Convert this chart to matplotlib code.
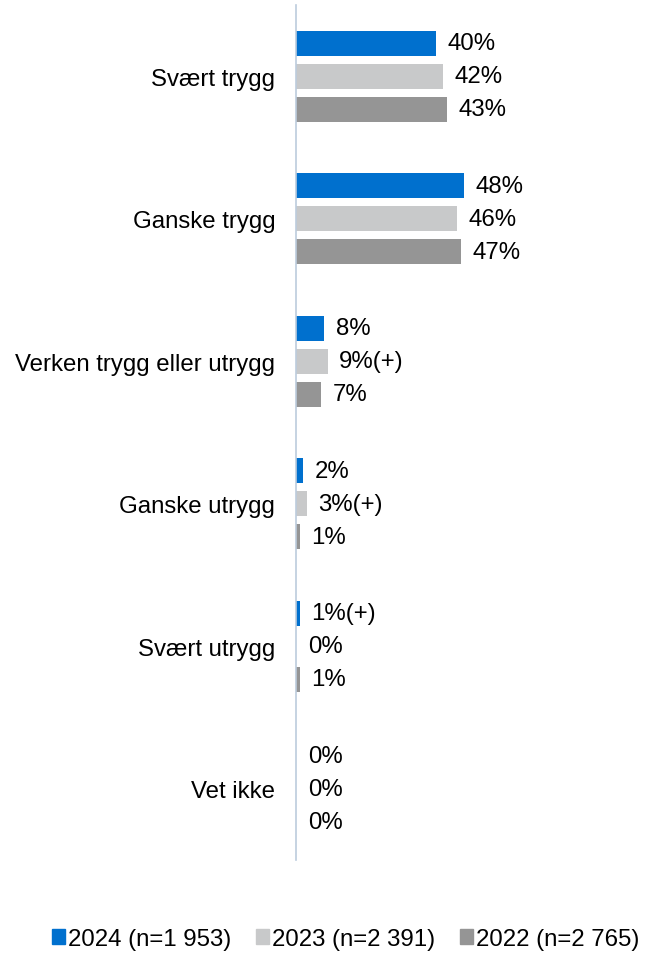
import matplotlib.pyplot as plt
from matplotlib.patches import Patch

plt.rcParams['font.family'] = ['Liberation Sans', 'DejaVu Sans']

categories = ['Svært trygg', 'Ganske trygg', 'Verken trygg eller utrygg',
              'Ganske utrygg', 'Svært utrygg', 'Vet ikke']
series = ['2024 (n=1 953)', '2023 (n=2 391)', '2022 (n=2 765)']
values = [
    [40, 48, 8, 2, 1, 0],
    [42, 46, 9, 3, 0, 0],
    [43, 47, 7, 1, 1, 0],
]
labels = [
    ['40%', '48%', '8%', '2%', '1%(+)', '0%'],
    ['42%', '46%', '9%(+)', '3%(+)', '0%', '0%'],
    ['43%', '47%', '7%', '1%', '1%', '0%'],
]
colors = ['#0070CE', '#C8C9CA', '#959595']
fs = 17.3

fig = plt.figure(figsize=(6.46, 9.54), dpi=100)
ax = fig.add_axes([296/646, 1-861/954, 350/646, 855/954])

offsets = [-0.232, 0, 0.232]
for s in range(3):
    ys = [i + offsets[s] for i in range(len(categories))]
    ax.barh(ys, values[s], height=0.176, color=colors[s])
    for y, v, lab in zip(ys, values[s], labels[s]):
        ax.annotate(lab, (v, y), xytext=(8.5, 0), textcoords='offset points',
                    va='center', ha='left', fontsize=fs, annotation_clip=False)

ax.set_ylim(len(categories) - 0.5, -0.5)
ax.set_xlim(0, 100)
ax.set_yticks(range(len(categories)))
ax.set_yticklabels(categories, fontsize=fs)
ax.tick_params(axis='y', length=0, pad=15)
ax.set_xticks([])
for side in ['top', 'right', 'bottom']:
    ax.spines[side].set_visible(False)
ax.spines['left'].set_color('#BCCCDD')
ax.spines['left'].set_linewidth(1.2)

handles = [Patch(color=c) for c in colors]
fig.legend(handles, series, loc='center', bbox_to_anchor=(0.535, 1-940/954), ncol=3,
           frameon=False, fontsize=fs, handlelength=0.55, handleheight=0.55,
           handletextpad=0.1, columnspacing=1.05)

fig.savefig('out.png', dpi=100)
